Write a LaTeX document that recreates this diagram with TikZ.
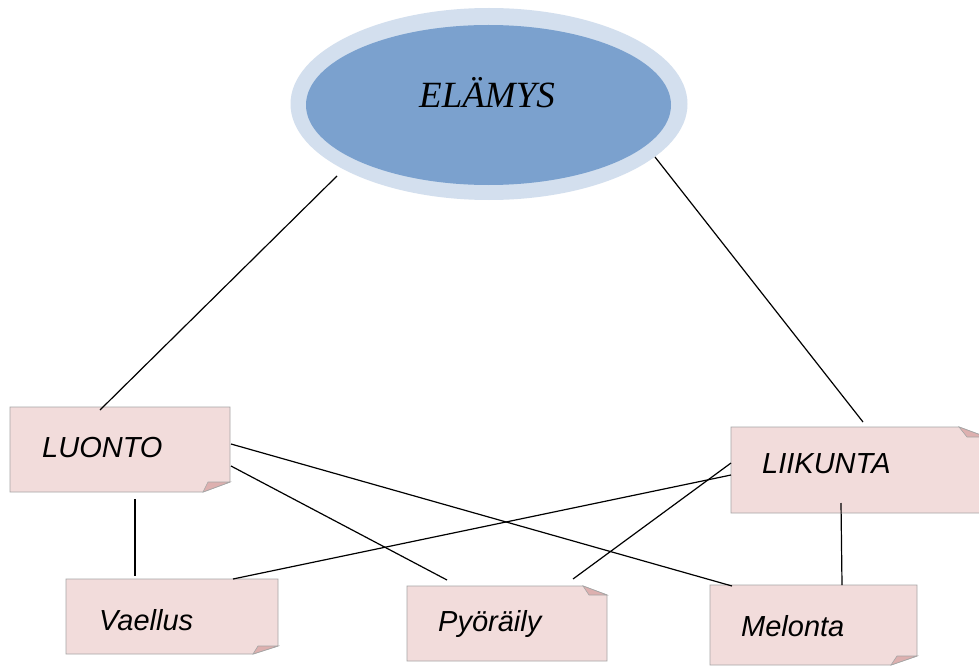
\documentclass[tikz,border=0pt]{standalone}
\usepackage{fontspec}
\setmainfont{Liberation Serif}
\newfontfamily\boxfont{Liberation Sans}
\definecolor{ringblue}{HTML}{D3DFEE}
\definecolor{coreblue}{HTML}{7BA1CE}
\definecolor{notepink}{HTML}{F2DCDB}
\definecolor{flappink}{HTML}{DDB0AF}
\definecolor{notegray}{HTML}{A6A6A6}
\begin{document}
\begin{tikzpicture}[x=1pt,y=-1pt,
  notebox/.style={fill=notepink,draw=notegray,line width=0.9pt,line join=miter},
  flap/.style={fill=flappink,draw=notegray,line width=0.6pt},
  notetext/.style={anchor=base west,inner sep=0pt,font=\boxfont\itshape\fontsize{29}{30}\selectfont},
  link/.style={draw=black,line width=1.2pt}]
\clip (0,0) rectangle (979,666);
\fill[white] (0,0) rectangle (979,666);
% central ellipse
\fill[ringblue] (489,104) ellipse [x radius=198.5, y radius=96];
\fill[coreblue] (488.5,105) ellipse [x radius=182.5, y radius=80];
\node[inner sep=0pt,anchor=base,font=\itshape\fontsize{37}{40}\selectfont] (elamys) at (487,108) {ELÄMYS};
\coordinate (eL) at (337,176);
\coordinate (eR) at (655,157);
% boxes
\draw[notebox] (10,407) -- (230,407) -- (230,482) -- (203,492) -- (10,492) -- cycle;
\draw[flap] (203,492) -- (208,482) -- (230,482) -- cycle;
\node[notetext] (luonto) at (42,457) {LUONTO};
\draw[notebox] (731,427) -- (959,427) -- (986,437) -- (986,513) -- (731,513) -- cycle;
\draw[flap] (959,427) -- (967,437) -- (986,437) -- cycle;
\node[notetext] (liikunta) at (762,473) {LIIKUNTA};
\draw[notebox] (66,579) -- (278,579) -- (278,646) -- (253,654) -- (66,654) -- cycle;
\draw[flap] (253,654) -- (258,646) -- (278,646) -- cycle;
\node[notetext] (vaellus) at (99,630) {Vaellus};
\draw[notebox] (407,586) -- (583,586) -- (607,595) -- (607,661) -- (407,661) -- cycle;
\draw[flap] (583,586) -- (589,595) -- (607,595) -- cycle;
\node[notetext] (pyoraily) at (438,631) {Pyöräily};
\draw[notebox] (710,585) -- (917,585) -- (917,656) -- (891,665) -- (710,665) -- cycle;
\draw[flap] (891,665) -- (897,656) -- (917,656) -- cycle;
\node[notetext] (melonta) at (741,636) {Melonta};
% connector end points
\coordinate (luT) at (100,410);
\coordinate (luB) at (135,499);
\coordinate (luR1) at (231,444);
\coordinate (luR2) at (231,466);
\coordinate (liT) at (863,422);
\coordinate (liB) at (841,503);
\coordinate (liL1) at (731,463);
\coordinate (liL2) at (731,475);
\coordinate (vaT) at (135,576);
\coordinate (vaR) at (233,579);
\coordinate (pyL) at (447,580);
\coordinate (pyR) at (573,579);
\coordinate (meL) at (732,586);
\coordinate (meT) at (842,585);
% connectors
\draw[link] (eL) -- (luT);
\draw[link] (eR) -- (liT);
\draw[link] (luB) -- (vaT);
\draw[link] (luR2) -- (pyL);
\draw[link] (luR1) -- (meL);
\draw[link] (liL2) -- (vaR);
\draw[link] (liL1) -- (pyR);
\draw[link] (liB) -- (meT);
\end{tikzpicture}
\end{document}
